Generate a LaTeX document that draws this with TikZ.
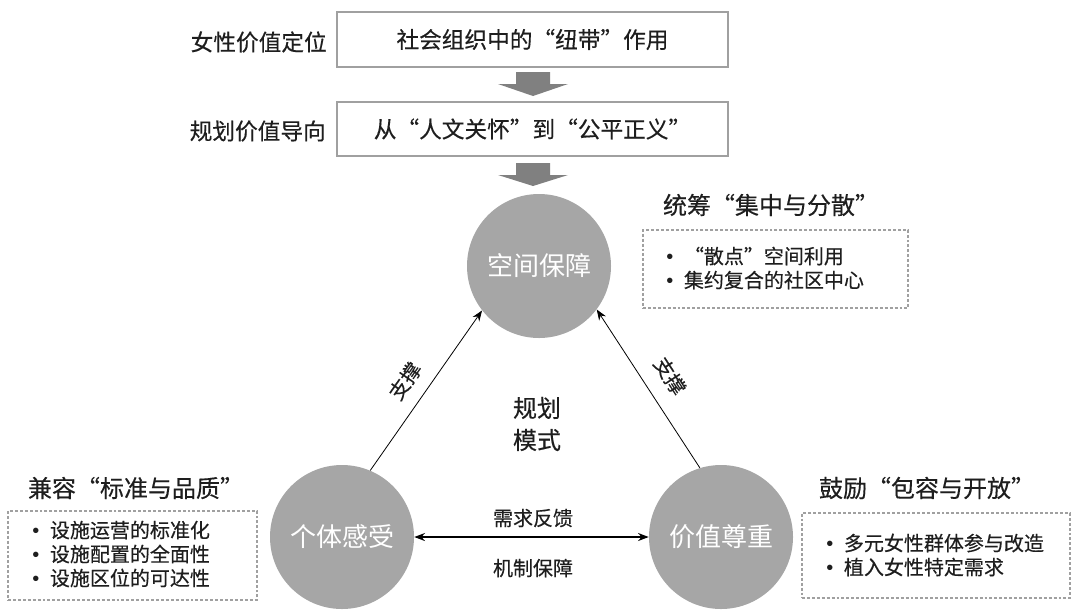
\documentclass[tikz,border=0pt]{standalone}
\usepackage{fontspec}
\setmainfont{Noto Sans CJK SC}[FakeBold=0.35]
\newfontfamily\lightcjk{Noto Sans CJK SC}
\newfontfamily\bulletfont{Liberation Sans}
\newcommand{\bul}{{\bulletfont •}\hspace{8pt}}
\usetikzlibrary{arrows.meta}
\definecolor{circgray}{HTML}{A6A6A6}
\definecolor{arrgray}{HTML}{808080}
\definecolor{boxgray}{HTML}{A0A0A0}
\definecolor{txt}{HTML}{1E1E1E}
\begin{document}
\begin{tikzpicture}[x=0.75pt,y=-0.75pt,
  every node/.style={text=txt, inner sep=0pt},
  topbox/.style={draw=boxgray, line width=1.1pt, minimum width=293.25pt, font=\fontsize{17}{20}\selectfont},
  sidelabel/.style={anchor=east, font=\fontsize{17}{20}\selectfont},
  hub/.style={circle, fill=circgray, minimum size=108pt, text=white, font=\lightcjk\fontsize{19.5}{22}\selectfont},
  cattitle/.style={font=\fontsize{18}{22}\selectfont},
  dashbox/.style={draw=boxgray, line width=0.8pt, dash pattern=on 2.2pt off 1.5pt},
  itemlist/.style={anchor=west, align=left, font=\fontsize{15}{18}\selectfont},
  small/.style={font=\fontsize{15}{18}\selectfont},
  blockarrow/.style={fill=arrgray},
  thinarrow/.style={-{Stealth[length=8pt,width=6pt]}, line width=0.6pt, draw=black},
  thickarrow/.style={{Stealth[length=8pt,width=6pt]}-{Stealth[length=8pt,width=6pt]}, line width=1.1pt, draw=black}
]
\useasboundingbox (0,0) rectangle (1080,612);

% top boxes
\node[topbox, minimum height=41.25pt] (b1) at (532.5,39.5) {社会组织中的“纽带”作用};
\node[topbox, minimum height=40.5pt] (b2) at (532.5,129) {从“人文关怀”到“公平正义”};
\node[sidelabel] (l1) at (327,42) {女性价值定位};
\node[sidelabel] (l2) at (326,131) {规划价值导向};

% block arrows
\fill[blockarrow] (516,72) -- (550,72) -- (550,84) -- (568,84) -- (533,96) -- (498,84) -- (516,84) -- cycle;
\fill[blockarrow] (516,163) -- (550,163) -- (550,175) -- (568,175) -- (533,186) -- (498,175) -- (516,175) -- cycle;

% hubs
\node[hub] (T) at (539,266) {空间保障};
\node[hub] (L) at (342,537) {个体感受};
\node[hub] (R) at (721,537) {价值尊重};

% connectors
\draw[thinarrow] (L.67) -- (T.218);
\draw[thinarrow] (R.107.5) -- (T.323);
\draw[thickarrow] (L.east) -- (R.west);

\node[small, rotate=55] (s1) at (405,381) {支撑};
\node[small, rotate=-57] (s2) at (670,376) {支撑};
\node[align=center, font=\fontsize{18}{24}\selectfont] (mode) at (537,424) {规划\\模式};
\node[small] (fb) at (533,518) {需求反馈};
\node[small] (mg) at (533,568) {机制保障};

% category titles
\node[cattitle] (t1) at (771,205) {统筹“集中与分散”};
\node[cattitle] (t2) at (136,488) {兼容“标准与品质”};
\node[cattitle] (t3) at (927,488) {鼓励“包容与开放”};

% dashed boxes
\node[dashbox, minimum width=198.75pt, minimum height=58.5pt] (d1) at (775.5,269) {};
\node[dashbox, minimum width=186.75pt, minimum height=66.75pt] (d2) at (132.5,555.5) {};
\node[dashbox, minimum width=201pt, minimum height=63.75pt] (d3) at (936,555.5) {};

\node[itemlist] (i1) at (666,268) {\bul{}“散点”空间利用\\\bul{}集约复合的社区中心};
\node[itemlist] (i2) at (32,554) {\bul{}设施运营的标准化\\\bul{}设施配置的全面性\\\bul{}设施区位的可达性};
\node[itemlist] (i3) at (826,555) {\bul{}多元女性群体参与改造\\\bul{}植入女性特定需求};
\end{tikzpicture}
\end{document}
